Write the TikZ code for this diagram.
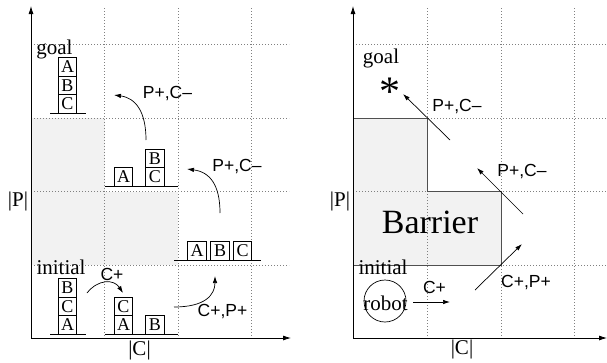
\documentclass[tikz,border=0pt]{standalone}
\usepackage{fontspec}
\setmainfont{Liberation Serif}
\setsansfont{Liberation Sans}
\usetikzlibrary{arrows.meta}
\definecolor{shadegray}{HTML}{F2F2F2}
\definecolor{gridgray}{HTML}{808080}
\definecolor{bordergray}{HTML}{505050}
\begin{document}
\begin{tikzpicture}[x=1pt,y=-1pt,
  gridline/.style={gridgray,line width=0.8pt,dash pattern=on 0.9pt off 2.1pt},
  axis/.style={line width=0.8pt,-{Latex[length=8pt,width=5pt]}},
  arr/.style={line width=0.7pt,-{Latex[length=7pt,width=4.5pt]}},
  blk/.style={draw,line width=0.6pt,minimum size=18.5pt,inner sep=0pt,font=\fontsize{18}{18}\selectfont},
  lbl/.style={font=\sffamily\fontsize{17.5}{18}\selectfont,inner sep=0pt},
  ser/.style={font=\fontsize{21}{21}\selectfont,inner sep=0pt},
  ground/.style={line width=0.8pt}]
\useasboundingbox (0,0) rectangle (607,362);
% ---------------- left panel ----------------
\fill[shadegray] (31,118) rectangle (104.5,265);
\fill[shadegray] (104.5,191.5) rectangle (178,265);
\foreach \x in {104.5,178,251.5} \draw[gridline] (\x,8) -- (\x,338);
\foreach \y in {44,118,191.5,265} \draw[gridline] (31,\y) -- (289,\y);
\coordinate (Lo) at (31,338);
\coordinate (Ltop) at (31,6);
\coordinate (Lright) at (291,338);
\draw[axis] (Lo) -- (Ltop);
\draw[axis] (Lo) -- (Lright);
\node[ser] (LP) at (18,201) {|P|};
\node[ser] (LC) at (139.5,350) {|C|};
\node[ser] (Lgoal) at (54.5,49) {goal};
\node[ser] (Linit) at (61,267.5) {initial};
% goal stack
\node[blk] (gA) at (67.5,67) {A};
\node[blk] (gB) at (67.5,85.5) {B};
\node[blk] (gC) at (67.5,104) {C};
\coordinate (g1) at (50,113.25); \coordinate (g2) at (86,113.25);
\draw[ground] (g1) -- (g2);
% middle stack
\node[blk] (mA) at (123.5,177) {A};
\node[blk] (mB) at (155,158.5) {B};
\node[blk] (mC) at (155,177) {C};
\coordinate (m1) at (105,186.25); \coordinate (m2) at (178,186.25);
\draw[ground] (m1) -- (m2);
% row
\node[blk] (rA) at (197,251) {A};
\node[blk] (rB) at (220,251) {B};
\node[blk] (rC) at (242.5,251) {C};
\coordinate (r1) at (174,260.25); \coordinate (r2) at (261,260.25);
\draw[ground] (r1) -- (r2);
% initial stack
\node[blk] (iB) at (67.5,288) {B};
\node[blk] (iC) at (67.5,306.5) {C};
\node[blk] (iA) at (67.5,325) {A};
\coordinate (i1) at (50,334.25); \coordinate (i2) at (86,334.25);
\draw[ground] (i1) -- (i2);
% bottom middle
\node[blk] (bC) at (123.5,306.5) {C};
\node[blk] (bA) at (123.5,325) {A};
\node[blk] (bB) at (155,325) {B};
\coordinate (b1) at (105,334.25); \coordinate (b2) at (178,334.25);
\draw[ground] (b1) -- (b2);
% arrows
\coordinate (a1s) at (87,293); \coordinate (a1e) at (123,293);
\draw[arr] (a1s) .. controls (98,279) and (114,279) .. (a1e);
\node[lbl] (a1l) at (112,274) {C+};
\coordinate (a2s) at (174,307); \coordinate (a2e) at (215,276);
\draw[arr] (a2s) .. controls (205,307) and (215,295) .. (a2e);
\node[lbl] (a2l) at (222.5,312) {C+,P+};
\coordinate (a3s) at (220,213); \coordinate (a3e) at (187,169);
\draw[arr] (a3s) .. controls (220,185) and (210,172) .. (a3e);
\node[lbl] (a3l) at (237,166.5) {P+,C--};
\coordinate (a4s) at (146,140); \coordinate (a4e) at (114,95);
\draw[arr] (a4s) .. controls (146,112) and (136,98) .. (a4e);
\node[lbl] (a4l) at (167.5,94) {P+,C--};
% ---------------- right panel ----------------
\fill[shadegray]
  (353,118) -- (427,118) -- (427,191.5) -- (501,191.5) -- (501,265) -- (353,265) -- cycle;
\foreach \x in {427,501,574} \draw[gridline] (\x,8) -- (\x,338);
\foreach \y in {44,118,191.5,265} \draw[gridline] (353,\y) -- (606,\y);
\draw[bordergray,line width=1pt]
  (353,118) -- (427,118) -- (427,191.5) -- (501,191.5) -- (501,265) -- (353,265);
\coordinate (Ro) at (353,338);
\coordinate (Rtop) at (353,6);
\coordinate (Rright) at (607,338);
\draw[axis] (Ro) -- (Rtop);
\draw[axis] (Ro) -- (Rright);
\node[ser] (RP) at (340,201) {|P|};
\node[ser] (RC) at (462,349) {|C|};
\node[ser] (Rgoal) at (381,58.5) {goal};
\node[ser] (Rinit) at (383,267) {initial};
\node[font=\fontsize{34}{34}\selectfont,inner sep=0pt] (barrier) at (430,222.5) {Barrier};
\node[font=\fontsize{42}{42}\selectfont,inner sep=0pt] (star) at (390,92) {*};
\node[draw,circle,line width=0.7pt,minimum size=42pt,inner sep=0pt] (robot) at (385,301) {};
\node[ser] (robotL) at (385.5,303) {robot};
\coordinate (b1s) at (413,302); \coordinate (b1e) at (450,302);
\draw[arr] (b1s) -- (b1e);
\node[lbl] (b1l) at (434.5,287) {C+};
\coordinate (b2s) at (475,290); \coordinate (b2e) at (522,244);
\draw[arr] (b2s) -- (b2e);
\node[lbl] (b2l) at (526,282.5) {C+,P+};
\coordinate (b3s) at (523,214); \coordinate (b3e) at (477,168);
\draw[arr] (b3s) -- (b3e);
\node[lbl] (b3l) at (522,171.5) {P+,C--};
\coordinate (b4s) at (450,140); \coordinate (b4e) at (403,94);
\draw[arr] (b4s) -- (b4e);
\node[lbl] (b4l) at (457,106.5) {P+,C--};
\end{tikzpicture}
\end{document}
